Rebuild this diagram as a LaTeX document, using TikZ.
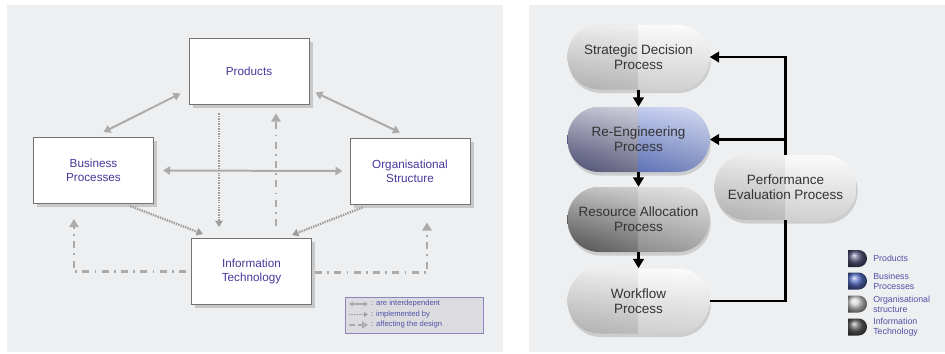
\documentclass[tikz,border=0pt]{standalone}
\usepackage{fontspec}
\setmainfont{Liberation Sans}
\usetikzlibrary{positioning,calc,arrows.meta,shapes.misc,shadows,fadings}

\definecolor{panelbg}{HTML}{EEEFF1}
\definecolor{boxtext}{HTML}{46389A}
\definecolor{keytext}{HTML}{5050A8}
\definecolor{linkgray}{HTML}{ABABAB}
\definecolor{dotgray}{HTML}{9E9E9E}
\definecolor{keyfill}{HTML}{DCDCE0}
\definecolor{keyline}{HTML}{8A86C0}
\definecolor{pilltext}{HTML}{333333}
\definecolor{paleL}{HTML}{CFCFCF}
\definecolor{paleR}{HTML}{F4F4F4}
\definecolor{reengL}{HTML}{5A5A86}
\definecolor{reengR}{HTML}{6E86D6}
\definecolor{resL}{HTML}{5E5E5E}
\definecolor{resR}{HTML}{A6A6A6}
\definecolor{iconprod}{HTML}{5A5A80}
\definecolor{iconbp}{HTML}{5A72C8}
\definecolor{iconorg}{HTML}{D0D0D0}
\definecolor{iconit}{HTML}{626262}

\def\ppbb{path picture bounding box}

\tikzset{
  block/.style={draw=black!55, fill=white, line width=0.8pt,
    minimum width=3.6cm, minimum height=1.98cm, align=center,
    text=boxtext, font=\fontsize{10}{12}\selectfont,
    drop shadow={shadow xshift=3pt, shadow yshift=-3pt, opacity=0.35}},
  inter/.style={linkgray, line width=1.7pt,
    {Triangle[width=7pt,length=6pt]}-{Triangle[width=7pt,length=6pt]}},
  impl/.style={dotgray, line width=2pt, dash pattern=on 1.2pt off 0.9pt,
    -{Triangle[width=6.5pt,length=5.5pt]}},
  affect/.style={linkgray, line width=2.4pt,
    dash pattern=on 6pt off 4.5pt on 1.5pt off 4.5pt,
    -{Triangle[width=8pt,length=7pt]}},
  pill/.style 2 args={rectangle, rounded corners=0.96cm, minimum width=4.26cm,
    minimum height=1.95cm, inner sep=1pt, align=center, text=pilltext,
    font=\fontsize{11.5}{13}\selectfont,
    drop shadow={shadow xshift=1pt, shadow yshift=-3pt, opacity=0.3},
    path picture={
      \shade[sharp corners, left color=#1, right color=#1!45!white]
        (\ppbb.south west) rectangle (\ppbb.north);
      \shade[sharp corners, left color=#2, right color=#2!70!white]
        (\ppbb.south) rectangle (\ppbb.north east);
      \fill[sharp corners, white, path fading=south, fill opacity=0.6]
        (\ppbb.south west) rectangle (\ppbb.north east);
      \fill[sharp corners, black, path fading=north, fill opacity=0.15]
        (\ppbb.south west) rectangle (\ppbb.north east);
    }},
  flow/.style={black, line width=2.5pt, -{Triangle[width=9pt,length=8pt]}},
  feedback/.style={black, line width=2.5pt},
  keyicon/.style={rounded rectangle, rounded rectangle west arc=none,
    minimum width=0.57cm, minimum height=0.51cm, inner sep=0pt,
    ball color=#1},
  keytxt/.style={text=keytext, font=\fontsize{7.5}{8.5}\selectfont,
    align=left, inner sep=2pt},
  linetxt/.style={text=keytext, font=\fontsize{6.5}{7.5}\selectfont,
    inner sep=0pt, anchor=west}
}

\begin{document}
\begin{tikzpicture}[x=0.03cm, y=-0.03cm]
  \useasboundingbox (0,0) rectangle (945,353);

  % panels
  \fill[panelbg] (7,5) rectangle (503,352);
  \fill[panelbg] (529,5) rectangle (945,352);

  % left: boxes
  \node[block] (prod) at (249,71) {Products};
  \node[block] (bp) at (93.5,170.5) {Business\\Processes};
  \node[block] (org) at (410,171) {Organisational\\Structure};
  \node[block] (it) at (251.5,271.5) {Information\\Technology};

  % interdependent
  \draw[inter] ($(bp.north)+(10,-5)$) -- ($(prod.south west)+(-8,-11)$);
  \draw[inter] ($(prod.south east)+(6,-12)$) -- ($(org.north)+(-10,-5)$);
  \draw[inter] ($(bp.east)+(9,0)$) -- ($(org.west)+(-7,0)$);

  % implemented by
  \draw[impl] ($(prod.south)+(-30,9)$) -- ($(it.north)+(-32.5,-11)$);
  \draw[impl] ($(bp.south east)+(-24,2)$) -- ($(it.north west)+(12,-4)$);
  \draw[impl] ($(org.south west)+(13,3)$) -- ($(it.north east)+(-20,-3)$);

  % affecting the design
  \draw[affect] ($(it.north)+(24.5,-12)$) -- ($(prod.south)+(27,9)$);
  \draw[affect] ($(it.west)+(-5,0)$) -| ($(bp.south)+(-19.5,15)$);
  \draw[affect] ($(it.east)+(3,1)$) -| ($(org.south)+(17,18)$);

  % left key
  \node[draw=keyline, fill=keyfill, line width=0.8pt, minimum width=4.14cm,
    minimum height=1.08cm] (key) at (414,315) {};
  \node[linetxt] (kinter) at (371,304) {: are interdependent};
  \node[linetxt] (kimpl) at (371,314.5) {: implemented by};
  \node[linetxt] (kaffect) at (371,325) {: affecting the design};
  \draw[linkgray, line width=1pt,
    {Triangle[width=4pt,length=3.5pt]}-{Triangle[width=4pt,length=3.5pt]}]
    ($(kinter.west)+(-22,0)$) -- ($(kinter.west)+(-3,0)$);
  \draw[dotgray, line width=1pt, dash pattern=on 0.8pt off 0.6pt,
    -{Triangle[width=4pt,length=3.5pt]}]
    ($(kimpl.west)+(-22,0)$) -- ($(kimpl.west)+(-3,0)$);
  \draw[linkgray, line width=1.3pt, dash pattern=on 5pt off 3pt,
    -{Triangle[open, width=6pt,length=5pt]}]
    ($(kaffect.west)+(-22,0)$) -- ($(kaffect.west)+(-3,0)$);

  % right: process pills
  \node[pill={paleL}{paleR}] (strat) at (638.5,57) {Strategic Decision\\Process};
  \node[pill={reengL}{reengR}] (reeng) at (638.5,139.5) {Re-Engineering\\Process};
  \node[pill={resL}{resR}] (res) at (638.5,219.5) {Resource Allocation\\Process};
  \node[pill={paleL}{paleR}] (wf) at (638.5,301) {Workflow\\Process};
  \node[pill={paleL}{paleR}] (perf) at (785.5,187.5) {Performance\\Evaluation Process};

  \draw[flow] (strat.south) -- (reeng.north);
  \draw[flow] (reeng.south) -- (res.north);
  \draw[flow] (res.south) -- (wf.north);

  \draw[feedback] (wf.east) -| (perf.south);
  \draw[flow] (perf.north) |- (strat.east);
  \draw[flow] (perf.north |- reeng.east) -- (reeng.east);

  % right key
  \node[keyicon=iconprod] (kprod) at (857.5,258.5) {};
  \node[keyicon=iconbp] (kbp) at (857.5,281) {};
  \node[keyicon=iconorg] (korg) at (857.5,304) {};
  \node[keyicon=iconit] (kit) at (857.5,327) {};
  \node[keytxt, right=3pt of kprod] (tprod) {Products};
  \node[keytxt, right=3pt of kbp] (tbp) {Business\\Processes};
  \node[keytxt, right=3pt of korg] (torg) {Organisational\\structure};
  \node[keytxt, right=3pt of kit] (tit) {Information\\Technology};
\end{tikzpicture}
\end{document}
